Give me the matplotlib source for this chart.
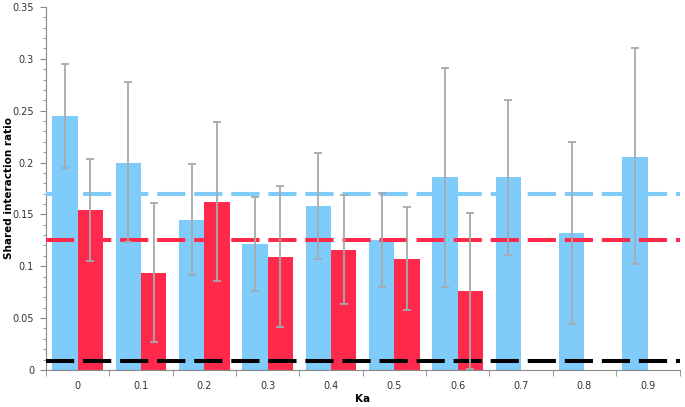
import numpy as np
import matplotlib
matplotlib.use("Agg")
import matplotlib.pyplot as plt
from matplotlib.ticker import MultipleLocator, FixedLocator, FuncFormatter

# ── data ─────────────────────────────────────────────────────────────────────
ka_labels = ["0", "0.1", "0.2", "0.3", "0.4", "0.5", "0.6", "0.7", "0.8", "0.9"]

blue_vals = [0.245, 0.200, 0.145, 0.121, 0.158, 0.125, 0.186, 0.186, 0.132, 0.205]
blue_hi   = [0.295, 0.278, 0.199, 0.167, 0.209, 0.171, 0.291, 0.260, 0.220, 0.310]
blue_lo   = [0.195, 0.123, 0.092, 0.076, 0.107, 0.080, 0.080, 0.111, 0.044, 0.102]

red_vals = [0.154, 0.093, 0.162, 0.109, 0.116, 0.107, 0.076]
red_hi   = [0.203, 0.161, 0.239, 0.177, 0.169, 0.157, 0.151]
red_lo   = [0.105, 0.027, 0.086, 0.041, 0.064, 0.058, 0.001]

blue_ref  = 0.170
red_ref   = 0.125
black_ref = 0.009

BLUE = "#7fcbfa"
RED = "#ff2a4b"
ERR = "#a3abaf"

fig = plt.figure(figsize=(6.85, 4.07), dpi=100)
ax = fig.add_axes([0.067, 0.091, 0.925, 0.892])

x = np.arange(len(ka_labels))
xr = np.arange(len(red_vals))
w = 0.4

ax.bar(x - w / 2, blue_vals, width=w, color=BLUE, zorder=2)
ax.bar(xr + w / 2, red_vals, width=w, color=RED, zorder=2)

# asymmetric error bars
b = np.array(blue_vals)
r = np.array(red_vals)
ax.errorbar(x - w / 2, b, yerr=[b - np.array(blue_lo), np.array(blue_hi) - b],
            fmt="none", ecolor=ERR, elinewidth=1.3, capsize=3, capthick=1.3, zorder=4)
ax.errorbar(xr + w / 2, r, yerr=[r - np.array(red_lo), np.array(red_hi) - r],
            fmt="none", ecolor=ERR, elinewidth=1.3, capsize=3, capthick=1.3, zorder=4)

# reference dashed lines
for yv, col in [(blue_ref, BLUE), (red_ref, RED), (black_ref, "black")]:
    ax.axhline(yv, color=col, lw=2.9, dashes=(7, 2.2), dash_capstyle="butt", zorder=3)

ax.set_xlim(-0.5, len(ka_labels) - 0.5)
ax.set_ylim(0, 0.35)

ax.set_xticks(x)
ax.set_xticklabels(ka_labels)
ax.xaxis.set_minor_locator(FixedLocator(np.arange(-0.5, len(ka_labels), 1.0)))
ax.tick_params(axis="x", which="major", length=0, pad=8, labelsize=7, labelcolor="#333333")
ax.tick_params(axis="x", which="minor", length=4, color="#888888")

ax.yaxis.set_major_locator(MultipleLocator(0.05))
ax.yaxis.set_minor_locator(MultipleLocator(0.01))
ax.yaxis.set_major_formatter(FuncFormatter(lambda v, p: f"{round(v, 2):g}"))
ax.tick_params(axis="y", which="major", length=4.5, pad=4, color="#888888", labelsize=7, labelcolor="#333333")
ax.tick_params(axis="y", which="minor", length=2, color="#888888")

for s in ["top", "right"]:
    ax.spines[s].set_visible(False)
for s in ["left", "bottom"]:
    ax.spines[s].set_color("#888888")
    ax.spines[s].set_linewidth(0.8)

ax.set_xlabel("Ka", fontsize=7.5, fontweight="bold")
ax.xaxis.set_label_coords(0.5, -0.066)
ax.set_ylabel("Shared interaction ratio", fontsize=7.5, fontweight="bold")
ax.yaxis.set_label_coords(-0.05, 0.5)

fig.savefig("out.png", dpi=100)
